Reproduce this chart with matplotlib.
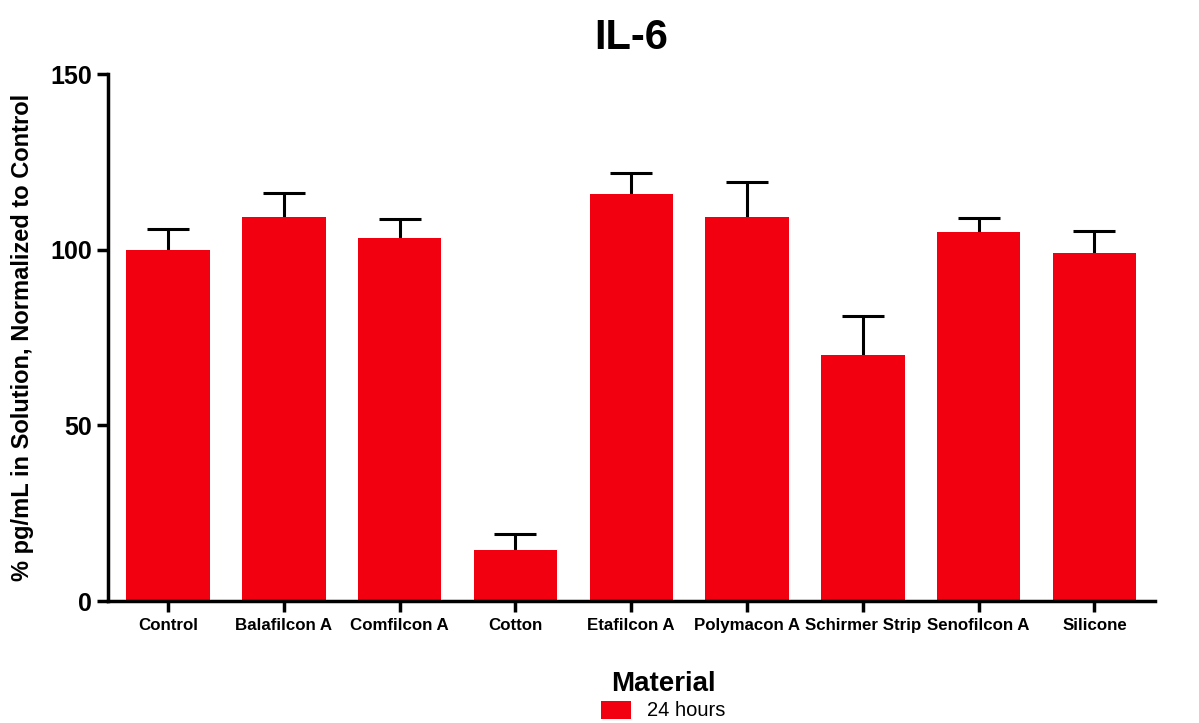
import numpy as np
import matplotlib
matplotlib.use("Agg")
import matplotlib.pyplot as plt
from matplotlib.patches import Patch
from matplotlib import font_manager

# data
materials = ["Control", "Balafilcon A", "Comfilcon A", "Cotton", "Etafilcon A",
             "Polymacon A", "Schirmer Strip", "Senofilcon A", "Silicone"]
means = [100.0, 109.3, 103.3, 14.5, 115.9, 109.3, 70.0, 105.0, 99.1]
errors = [6.0, 6.9, 5.3, 4.6, 6.0, 10.1, 11.2, 4.0, 6.3]
series_label = "24 hours"

bar_color = "#f2000f"
names = {f.name for f in font_manager.fontManager.ttflist}
narrow = "Liberation Sans Narrow" if "Liberation Sans Narrow" in names else "Liberation Sans"

plt.rcParams['font.family'] = ['Liberation Sans', 'DejaVu Sans']

fig = plt.figure(figsize=(11.99, 7.23), dpi=100)
ax = fig.add_axes([0.090, 0.1687, 0.873, 0.7289])

x = np.arange(len(materials))
# error bars sit behind the bars so only the upper half shows
ax.errorbar(x, means, yerr=errors, fmt='none',
            ecolor='black', elinewidth=2.2, capsize=15, capthick=2.2, zorder=1)
ax.bar(x, means, width=0.72, color=bar_color, zorder=2)

ax.set_xlim(-0.52, 8.52)
ax.set_ylim(0, 150)
ax.set_yticks([0, 50, 100, 150])
ax.set_xticks(x)
ax.set_xticklabels(materials, fontsize=12.2, fontweight='bold', family=narrow)
for lbl in ax.get_yticklabels():
    lbl.set_fontsize(18)
    lbl.set_fontweight('bold')

for side in ['top', 'right']:
    ax.spines[side].set_visible(False)
for side in ['left', 'bottom']:
    ax.spines[side].set_linewidth(2.5)
ax.tick_params(axis='both', width=2.5, length=8, direction='out')
ax.tick_params(axis='x', pad=4)

ax.set_ylabel("% pg/mL in Solution, Normalized to Control", fontsize=17,
              fontweight='bold', labelpad=12)
ax.set_title("IL-6", fontsize=30, fontweight='bold', pad=18)

leg = fig.legend(handles=[Patch(facecolor=bar_color, label=series_label)],
                 title="Material", loc='center', bbox_to_anchor=(0.553, 0.038),
                 frameon=False, fontsize=14.5, handlelength=1.5, handleheight=1.0,
                 labelspacing=0.2, borderpad=0.2)
leg.get_title().set_fontsize(20)
leg.get_title().set_fontweight('bold')

fig.savefig("out.png", dpi=100)
